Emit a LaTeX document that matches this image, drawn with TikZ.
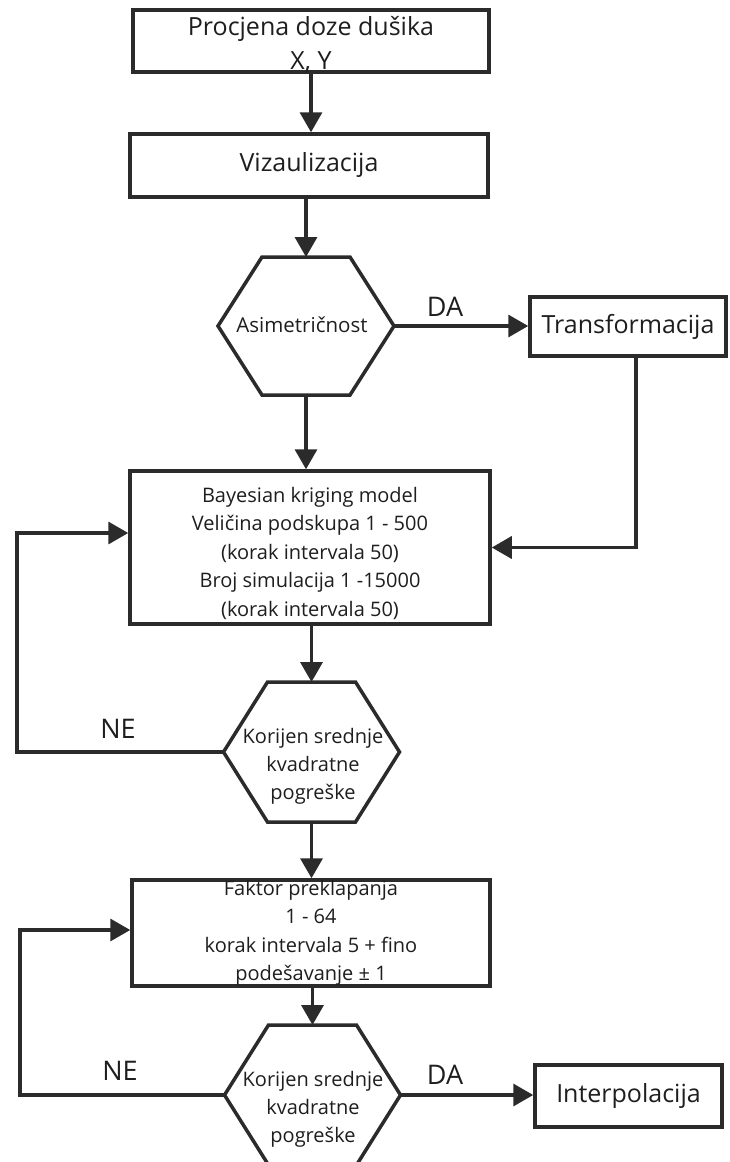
\documentclass[tikz,border=0pt]{standalone}
\usepackage{fontspec}
\setmainfont{Open Sans}
\usetikzlibrary{arrows.meta,calc}
\definecolor{ink}{HTML}{2B2B2B}
\definecolor{txt}{HTML}{1E1E1E}
\newcommand{\hexdraw}[3]{%
  \draw[plain] ({#1-88},#2) -- ({#1-44},{#2-#3}) -- ({#1+44},{#2-#3}) -- ({#1+88},#2) -- ({#1+44},{#2+#3}) -- ({#1-44},{#2+#3}) -- cycle;}
\begin{document}
\begin{tikzpicture}[x=1pt,y=-1pt,
  box/.style={draw=ink, line width=3.5pt, fill=white, inner sep=0pt, text=txt, align=center},
  conn/.style={draw=ink, line width=3.5pt, -{Triangle[length=20pt,width=22pt]}},
  plain/.style={draw=ink, line width=3.5pt},
  big/.style={font=\fontsize{25}{34}\selectfont},
  mid/.style={font=\fontsize{20}{28.5}\selectfont},
  hexfont/.style={font=\fontsize{20}{28}\selectfont},
  lab/.style={text=txt, font=\fontsize{27}{30}\selectfont, inner sep=0pt},
  txtonly/.style={text=txt, inner sep=0pt, align=center},
]
\useasboundingbox (0,0) rectangle (729,1162);
% boxes
\node[box, minimum width=356pt, minimum height=62pt] (b1) at (311,41) {};
\node[txtonly, big] (b1t) at (311,45) {Procjena doze dušika\\X, Y};
\node[box, big, minimum width=358pt, minimum height=63pt] (b2) at (309,165.5) {Vizaulizacija};
\node[box, big, minimum width=196pt, minimum height=59pt] (tr) at (628,326.5) {Transformacija};
\node[box, minimum width=360pt, minimum height=153pt] (bay) at (310,547.5) {};
\node[txtonly, mid] (baytxt) at (310,553) {Bayesian kriging model\\Veličina podskupa 1 - 500\\(korak intervala 50)\\Broj simulacija 1 -15000\\(korak intervala 50)};
\node[box, minimum width=358pt, minimum height=106pt] (fak) at (311,933) {};
\node[txtonly, mid] (faktxt) at (311,933) {Faktor preklapanja\\1 - 64\\korak intervala 5 + fino\\podešavanje ± 1};
\node[box, big, minimum width=187pt, minimum height=62pt] (ip) at (628.5,1096) {Interpolacija};
% hexagons
\hexdraw{306}{326}{69}
\coordinate (h1n) at (306,257); \coordinate (h1s) at (306,395);
\coordinate (h1w) at (218,326); \coordinate (h1e) at (394,326);
\node[txtonly, font=\fontsize{20.5}{28}\selectfont] (h1t) at (302,325) {Asimetričnost};
\hexdraw{311.5}{752}{70}
\coordinate (h2n) at (311.5,682); \coordinate (h2s) at (311.5,822);
\coordinate (h2w) at (223.5,752); \coordinate (h2e) at (399.5,752);
\node[txtonly, hexfont] (h2t) at (313,766) {Korijen srednje\\kvadratne\\pogreške};
\hexdraw{312.5}{1095}{70}
\coordinate (h3n) at (312.5,1025); \coordinate (h3s) at (312.5,1165);
\coordinate (h3w) at (224.5,1095); \coordinate (h3e) at (400.5,1095);
\node[txtonly, hexfont] (h3t) at (313,1109) {Korijen srednje\\kvadratne\\pogreške};
% loop corners
\coordinate (l1) at (17,752);
\coordinate (l2) at (20,1095);
% connectors
\draw[conn] (b1.south) -- (b1.south |- b2.north);
\draw[conn] (b2.south -| h1n) -- (h1n);
\draw[conn] (h1e) -- (h1e -| tr.west);
\draw[conn] ([xshift=8pt]tr.south) |- (bay.east);
\draw[conn] (h1s) -- (h1s |- bay.north);
\draw[conn] (bay.south -| h2n) -- (h2n);
\draw[conn] (h2w) -- (l1) |- ([yshift=14.5pt]bay.west);
\draw[conn] (h2s) -- (h2s |- fak.north);
\draw[conn] (fak.south -| h3n) -- (h3n);
\draw[conn] (h3w) -- (l2) |- ([yshift=3pt]fak.west);
\draw[conn] (h3e) -- (h3e -| ip.west);
% labels
\node[lab] (da1) at (445,307) {DA};
\node[lab] (ne1) at (118,729) {NE};
\node[lab] (ne2) at (120,1071) {NE};
\node[lab] (da2) at (445,1075) {DA};
\end{tikzpicture}
\end{document}
